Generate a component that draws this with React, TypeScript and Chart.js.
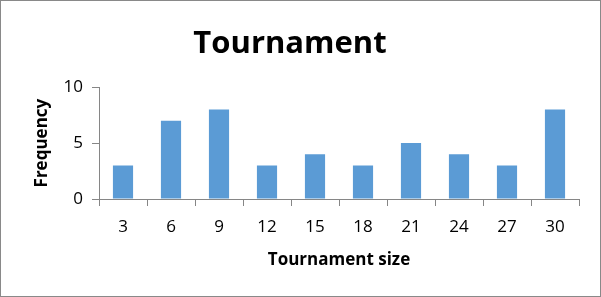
import React, { useEffect, useRef } from "react";
import { Chart, registerables } from "chart.js";

Chart.register(...registerables);

const categories = ["3", "6", "9", "12", "15", "18", "21", "24", "27", "30"];
const frequency = [3, 7, 8, 3, 4, 3, 5, 4, 3, 8];
const yTicks = [0, 5, 10];
const titleText = "Tournament";
const xTitle = "Tournament size";
const yTitle = "Frequency";

const FONT = "'Open Sans', 'Liberation Sans', sans-serif";
const AXIS = "#868686";

export default function App() {
  const ref = useRef<HTMLCanvasElement>(null);
  useEffect(() => {
    document.body.style.margin = "0";
    const chart = new Chart(ref.current!, {
      type: "bar",
      data: {
        labels: categories,
        datasets: [
          {
            data: frequency,
            backgroundColor: "#5B9BD5",
            barPercentage: 1,
            categoryPercentage: 0.42,
          },
        ],
      },
      options: {
        animation: false,
        responsive: false,
        layout: { padding: { left: 0, right: 21, top: 0, bottom: 0 } },
        plugins: {
          legend: { display: false },
          tooltip: { enabled: false },
          title: {
            display: true,
            text: titleText,
            color: "#000",
            font: { family: FONT, size: 31, weight: "bold", lineHeight: 1.2 },
            padding: { top: 25, bottom: 24 },
          },
        },
        scales: {
          x: {
            offset: true,
            grid: { offset: true, drawOnChartArea: false, drawTicks: true, tickLength: 7, color: AXIS },
            border: { color: AXIS },
            ticks: { color: "#000", font: { family: FONT, size: 17 }, padding: 11, maxRotation: 0 },
            title: {
              display: true,
              text: xTitle,
              color: "#000",
              font: { family: FONT, size: 17, weight: "bold", lineHeight: 1.2 },
              padding: { top: 0, bottom: 26 },
            },
            afterFit: (s: any) => {
              s.height = 97;
            },
          },
          y: {
            min: 0,
            max: 10,
            afterBuildTicks: (s: any) => {
              s.ticks = yTicks.map((v) => ({ value: v }));
            },
            grid: { drawOnChartArea: false, drawTicks: true, tickLength: 7, color: AXIS },
            border: { color: AXIS },
            ticks: { color: "#000", font: { family: FONT, size: 17 }, padding: 9 },
            title: {
              display: true,
              text: yTitle,
              color: "#000",
              font: { family: FONT, size: 17, weight: "bold", lineHeight: 1.2 },
              padding: { top: 31, bottom: 0 },
            },
            afterFit: (s: any) => {
              s.width = 98;
            },
          },
        },
      },
    });
    return () => chart.destroy();
  }, []);
  return (
    <div
      style={{
        position: "absolute",
        left: 0,
        top: 0,
        width: 601,
        height: 297,
        boxSizing: "border-box",
        border: "1px solid #898989",
        background: "#fff",
      }}
    >
      <canvas ref={ref} width={599} height={295} style={{ display: "block" }} />
    </div>
  );
}
